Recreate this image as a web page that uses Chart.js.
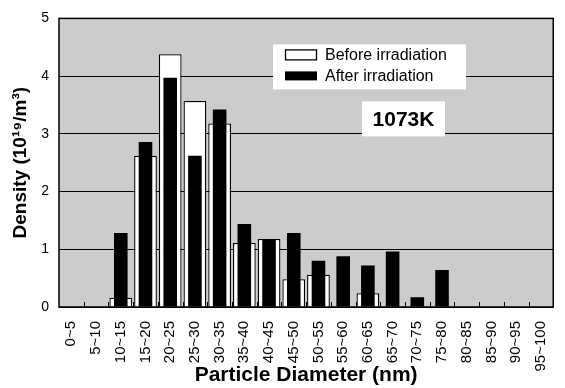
<!DOCTYPE html>
<html><head><meta charset="utf-8">
<script src="https://cdn.jsdelivr.net/npm/chart.js@4"></script>
<style>html,body{margin:0;padding:0;background:#fff;overflow:hidden}</style>
</head><body>
<canvas id="c" width="565" height="388"></canvas>
<script>
const categories = ['0~5','5~10','10~15','15~20','20~25','25~30','30~35','35~40','40~45','45~50',
  '50~55','55~60','60~65','65~70','70~75','75~80','80~85','85~90','90~95','95~100'];
const beforeIrradiation = [0,0,0.16,2.62,4.38,3.57,3.18,1.11,1.18,0.48,0.56,0,0.24,0,0,0,0,0,0,0];
const afterIrradiation  = [0,0,1.28,2.86,3.97,2.62,3.42,1.44,1.18,1.28,0.80,0.88,0.72,0.96,0.17,0.64,0,0,0,0];
const seriesLabels = ['Before irradiation','After irradiation'];
const tempLabel = '1073K';
const yMin = 0, yMax = 5, yStep = 1;
const FONT = "'Liberation Sans', Arial, Helvetica, sans-serif";

const framePlugin = {
  id: 'frame',
  beforeDraw(chart) {
    const {ctx, chartArea: a} = chart;
    ctx.save();
    ctx.fillStyle = '#cccccc';
    ctx.fillRect(a.left, a.top, a.right - a.left, a.bottom - a.top);
    ctx.restore();
  },
  afterDatasetsDraw(chart) {
    const {ctx, chartArea: a, scales: {x}} = chart;
    ctx.save();
    ctx.strokeStyle = '#000';
    ctx.lineWidth = 1;
    for (let i = 1; i < categories.length; i++) {
      const px = Math.round((x.getPixelForValue(i - 1) + x.getPixelForValue(i)) / 2) + 0.5;
      ctx.beginPath(); ctx.moveTo(px, a.bottom); ctx.lineTo(px, a.bottom - 5); ctx.stroke();
    }
    ctx.lineWidth = 1.5;
    ctx.strokeRect(a.left, a.top, a.right - a.left, a.bottom - a.top);

    // legend
    const lx = a.left + 214, ly = a.top + 26;
    ctx.fillStyle = '#fff';
    ctx.fillRect(lx, ly, 193, 45);
    ctx.lineWidth = 1.3;
    ctx.strokeStyle = '#000';
    ctx.strokeRect(lx + 12.5, ly + 5.5, 31, 10);
    ctx.fillStyle = '#000';
    ctx.fillRect(lx + 12, ly + 27, 32, 9);
    ctx.font = '16px ' + FONT;
    ctx.textAlign = 'left';
    ctx.textBaseline = 'alphabetic';
    ctx.fillText(chart.data.datasets[0].label, lx + 52, ly + 15.5);
    ctx.fillText(chart.data.datasets[1].label, lx + 52, ly + 37);

    // temperature label
    const tx = a.left + 303, ty = a.top + 83;
    ctx.fillStyle = '#fff';
    ctx.fillRect(tx, ty, 83, 35);
    ctx.fillStyle = '#000';
    ctx.font = 'bold 21px ' + FONT;
    ctx.textAlign = 'center';
    ctx.fillText(tempLabel, tx + 41.5, ty + 25);
    ctx.restore();
  }
};

new Chart(document.getElementById('c'), {
  type: 'bar',
  data: {
    labels: categories,
    datasets: [
      { label: seriesLabels[0], data: beforeIrradiation, backgroundColor: '#ffffff', borderColor: '#000000',
        borderWidth: 1.3, grouped: false, categoryPercentage: 1, barPercentage: 0.92, order: 2 },
      { label: seriesLabels[1], data: afterIrradiation, backgroundColor: '#000000', borderColor: '#000000',
        borderWidth: 0, grouped: false, categoryPercentage: 1, barPercentage: 0.55, order: 1 }
    ]
  },
  options: {
    responsive: false,
    animation: false,
    layout: { padding: { left: 0, right: 5, top: 15, bottom: 0 } },
    plugins: { legend: { display: false }, tooltip: { enabled: false } },
    scales: {
      x: {
        grid: { display: false },
        border: { display: false },
        ticks: { minRotation: 90, maxRotation: 90, autoSkip: false, padding: 6, color: '#000',
                 font: { family: FONT, size: 15 } },
        title: { display: true, text: 'Particle Diameter (nm)', color: '#000',
                 font: { family: FONT, size: 21, weight: 'bold' }, padding: { top: 0, bottom: 0 } },
        afterFit(s) { s.height = 81; }
      },
      y: {
        min: yMin, max: yMax,
        grid: { color: '#000', lineWidth: 1, drawTicks: false },
        border: { display: false },
        ticks: { stepSize: yStep, padding: 10, color: '#000', font: { family: FONT, size: 14 } },
        title: { display: true, text: 'Density (10¹⁹/m³)', color: '#000',
                 font: { family: FONT, size: 19, weight: 'bold' }, padding: { top: 9, bottom: 0 } },
        afterFit(s) { s.width = 59; }
      }
    }
  },
  plugins: [framePlugin]
});
</script>
</body></html>
